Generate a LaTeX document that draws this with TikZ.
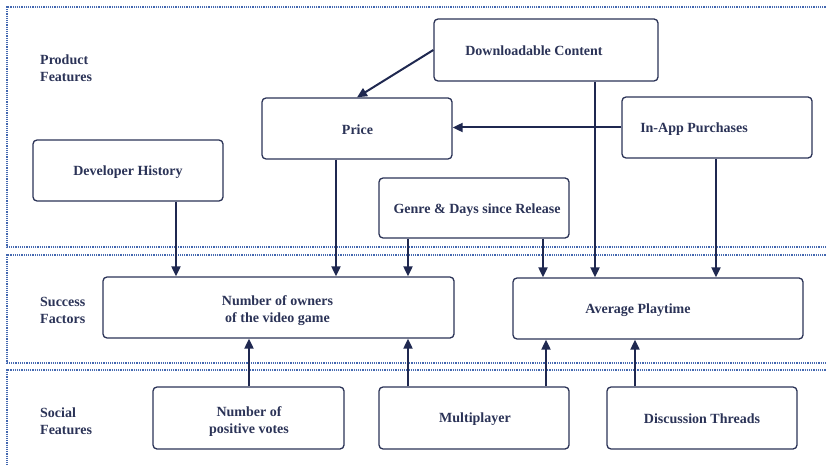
\documentclass[tikz,border=0pt]{standalone}
\usepackage{fontspec}
\setmainfont{Liberation Serif}
\usetikzlibrary{arrows.meta,calc}
\definecolor{navy}{HTML}{2B3357}
\definecolor{arrowc}{HTML}{1F2850}
\definecolor{lanec}{HTML}{4468B0}
\begin{document}
\begin{tikzpicture}[x=1pt,y=-1pt,
  box/.style={draw=navy,line width=1.3pt,rounded corners=4pt,minimum width=#1,inner sep=0pt,fill=white},
  txt/.style={text=navy,font=\fontsize{14}{17}\selectfont\bfseries,align=center,inner sep=0pt,yshift=-1.2pt},
  lbl/.style={text=navy,font=\fontsize{14}{17}\selectfont\bfseries,align=left,anchor=west,inner sep=0pt,yshift=-1.2pt},
  arr/.style={draw=arrowc,line width=2pt,-{Triangle[length=10pt,width=9pt]}},
  lane/.style={draw=lanec,line width=1.5pt,dash pattern=on 1.2pt off 1pt}]
\useasboundingbox (0,0) rectangle (826,465);
% lanes
\draw[lane] (830,7) -- (7,7) -- (7,247) -- (830,247);
\draw[lane] (830,255) -- (7,255) -- (7,363) -- (830,363);
\draw[lane] (830,370) -- (7,370) -- (7,470);
% lane labels
\node[lbl] (lp) at (40,67.5) {Product\\Features};
\node[lbl] (ls) at (40,309) {Success\\Factors};
\node[lbl] (lso) at (40,420) {Social\\Features};
% boxes
\node[box=224pt,minimum height=62pt] (dlc) at (546,50) {};
\node[box=190pt,minimum height=61pt] (iap) at (717,127.5) {};
\node[box=190pt,minimum height=61pt] (price) at (357,128.5) {};
\node[box=190pt,minimum height=61pt] (dev) at (128,170.5) {};
\node[box=190pt,minimum height=60pt] (genre) at (474,208) {};
\node[box=351pt,minimum height=61pt] (owners) at (278.5,307.5) {};
\node[box=290pt,minimum height=61pt] (avg) at (658,308.5) {};
\node[box=191pt,minimum height=62pt] (votes) at (248.5,418) {};
\node[box=190pt,minimum height=62pt] (multi) at (474,418) {};
\node[box=190pt,minimum height=62pt] (disc) at (702,418) {};
% texts
\node[txt] (dlct) at (534,50) {Downloadable Content};
\node[txt] (iapt) at (694,128) {In-App Purchases};
\node[txt] (pricet) at (357.5,129) {Price};
\node[txt] (devt) at (128,171) {Developer History};
\node[txt] (genret) at (477,209) {Genre \& Days since Release};
\node[txt] (ownerst) at (277.5,309.5) {Number of owners\\of the video game};
\node[txt] (avgt) at (638,309) {Average Playtime};
\node[txt] (votest) at (249,420) {Number of\\positive votes};
\node[txt] (multit) at (475,418) {Multiplayer};
\node[txt] (disct) at (702,418) {Discussion Threads};
% x positions of connectors
\coordinate (xa) at (176,0);
\coordinate (xb) at (336,0);
\coordinate (xc) at (408,0);
\coordinate (xd) at (543,0);
\coordinate (xe) at (595,0);
\coordinate (xf) at (716,0);
\coordinate (xg) at (249,0);
\coordinate (xh) at (546,0);
\coordinate (xi) at (635,0);
% connectors
\draw[arr] (dlc.west) -- (price.north);
\draw[arr] (dlc.south -| xe) -- (avg.north -| xe);
\draw[arr] (iap.west) -- (iap.west -| price.east);
\draw[arr] (iap.south -| xf) -- (avg.north -| xf);
\draw[arr] (genre.south -| xd) -- (avg.north -| xd);
\draw[arr] (dev.south -| xa) -- (owners.north -| xa);
\draw[arr] (price.south -| xb) -- (owners.north -| xb);
\draw[arr] (genre.south -| xc) -- (owners.north -| xc);
\draw[arr] (votes.north -| xg) -- (owners.south -| xg);
\draw[arr] (multi.north -| xc) -- (owners.south -| xc);
\draw[arr] (multi.north -| xh) -- (avg.south -| xh);
\draw[arr] (disc.north -| xi) -- (avg.south -| xi);
\end{tikzpicture}
\end{document}
